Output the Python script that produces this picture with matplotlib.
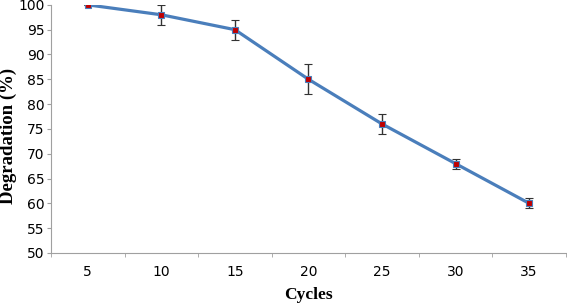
import numpy as np
import matplotlib.pyplot as plt

# data
cycles = ['5', '10', '15', '20', '25', '30', '35']
degradation = [100, 98, 95, 85, 76, 68, 60]
err = [0, 2, 2, 3, 2, 1, 1]

fig = plt.figure(figsize=(5.67, 3.04), dpi=100)
ax = fig.add_axes([0.09, 0.168, 0.908, 0.816])

x = np.arange(len(cycles))
ax.errorbar(x, degradation, yerr=err, color='#4a7ebb', lw=2.3,
            ecolor='#333333', elinewidth=1, capsize=3, capthick=1,
            marker='s', markersize=5, markerfacecolor='#c00000',
            markeredgecolor='#4a7ebb', markeredgewidth=0.8, zorder=3)

ax.set_xlim(-0.5, len(cycles) - 0.5)
ax.set_ylim(50, 100)
ax.set_yticks(np.arange(50, 101, 5))
ax.set_xticks(x)
ax.set_xticklabels(cycles)
ax.set_xticks(np.arange(-0.5, len(cycles), 1), minor=True)
ax.tick_params(axis='x', which='major', length=0, pad=9)
ax.tick_params(axis='x', which='minor', length=3, color='#a0a0a0')
ax.tick_params(axis='y', length=3, color='#a0a0a0', pad=1.5)
for lab in ax.get_xticklabels() + ax.get_yticklabels():
    lab.set_family('DejaVu Sans')
    lab.set_fontsize(10)

for s in ['top', 'right']:
    ax.spines[s].set_visible(False)
for s in ['left', 'bottom']:
    ax.spines[s].set_color('#a0a0a0')

ax.set_xlabel('Cycles', family='Liberation Serif', fontweight='bold', fontsize=12.5)
ax.set_ylabel('Degradation (%)', family='Liberation Serif', fontweight='bold', fontsize=13.5)
ax.xaxis.set_label_coords(0.5, -0.137)
ax.yaxis.set_label_coords(-0.083, 0.47)
ax.yaxis.label.set_va('center')

fig.savefig('out.png', dpi=100)
